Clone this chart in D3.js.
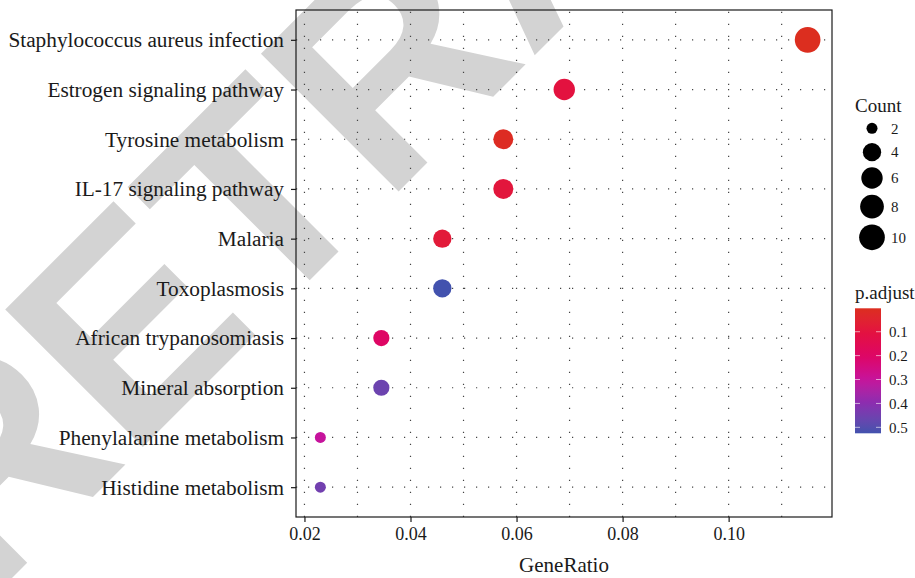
<!DOCTYPE html>
<html><head><meta charset="utf-8">
<script src="https://cdn.jsdelivr.net/npm/d3@7"></script>
<style>body{margin:0;background:#fff}svg{display:block}</style>
</head><body>
<svg id="chart" width="915" height="578"></svg>
<script>
// ---- data ----
const categories = ["Staphylococcus aureus infection","Estrogen signaling pathway","Tyrosine metabolism","IL-17 signaling pathway","Malaria","Toxoplasmosis","African trypanosomiasis","Mineral absorption","Phenylalanine metabolism","Histidine metabolism"];
const geneRatio = [0.1149,0.0690,0.0575,0.0575,0.0460,0.0460,0.0345,0.0345,0.0230,0.0230];
const counts = [10,6,5,5,4,4,3,3,2,2];
const pAdjust = [0.002,0.10,0.012,0.09,0.08,0.525,0.20,0.46,0.30,0.45];
const xTicks = [0.02,0.04,0.06,0.08,0.10];
const xTickLabels = ["0.02","0.04","0.06","0.08","0.10"];
const xMinor = [0.03,0.05,0.07,0.09,0.11];
const countBreaks = [2,4,6,8,10];
const pBreaks = [0.1,0.2,0.3,0.4,0.5];
const pBreakLabels = ["0.1","0.2","0.3","0.4","0.5"];
const colorStops = [0.002,0.1,0.2,0.3,0.4,0.525];
const stopColors = ["#DC2E1F","#E3123F","#DE0664","#C6139C","#8A2DB0","#4252AE"];
const watermark = "RETRACTED";

// ---- layout ----
const P = {left: 296, right: 832, top: 10, bottom: 517};
const serif = "'Liberation Serif','DejaVu Serif',serif";
const ink = "#1a1a1a";
const svg = d3.select("#chart");

// watermark (behind everything)
svg.append("text")
  .attr("transform", "translate(-15,605) rotate(-45)")
  .attr("font-family", "'Liberation Sans',Arial,sans-serif")
  .attr("font-weight", "bold")
  .attr("font-size", 283)
  .attr("fill", "#d3d3d3")
  .text(watermark);

// scales
const ext = d3.extent(geneRatio);
const pad = 0.05 * (ext[1] - ext[0]);
const x = d3.scaleLinear().domain([ext[0] - pad, ext[1] + pad]).range([P.left, P.right]);
const y = d3.scalePoint().domain(categories).range([P.top, P.bottom]).padding(0.6);
const sizeT = d3.scaleLinear().domain(d3.extent(counts)).range([0, 1]);
const rLin = d3.scaleLinear().domain([0, 1]).range([5.5, 12.85]);
const rad = c => rLin(Math.sqrt(sizeT(c)));
const color = d3.scaleLinear().domain(colorStops).range(stopColors).interpolate(d3.interpolateLab).clamp(true);

// grid
const g = svg.append("g");
const dash = "1.2 10.8";
g.selectAll("line.vg").data(xTicks.concat(xMinor)).join("line")
  .attr("x1", d => x(d)).attr("x2", d => x(d))
  .attr("y1", P.bottom).attr("y2", P.top)
  .attr("stroke", "#444").attr("stroke-width", 1.2).attr("stroke-dasharray", dash);
g.selectAll("line.hg").data(categories).join("line")
  .attr("x1", P.left).attr("x2", P.right)
  .attr("y1", d => y(d)).attr("y2", d => y(d))
  .attr("stroke", "#444").attr("stroke-width", 1.2).attr("stroke-dasharray", dash);

// points
svg.append("g").selectAll("circle").data(categories).join("circle")
  .attr("cx", (d, i) => x(geneRatio[i]))
  .attr("cy", d => y(d))
  .attr("r", (d, i) => rad(counts[i]))
  .attr("fill", (d, i) => color(pAdjust[i]));

// panel border
svg.append("rect").attr("x", P.left).attr("y", P.top)
  .attr("width", P.right - P.left).attr("height", P.bottom - P.top)
  .attr("fill", "none").attr("stroke", ink).attr("stroke-width", 1.2);

// axes
const xAxis = svg.append("g").attr("transform", `translate(0,${P.bottom})`)
  .call(d3.axisBottom(x).tickValues(xTicks).tickFormat((d, i) => xTickLabels[i]).tickSize(5).tickPadding(5));
xAxis.select(".domain").remove();
xAxis.selectAll("line").attr("stroke", ink).attr("stroke-width", 1.2);
xAxis.selectAll("text").attr("font-family", serif).attr("font-size", 18).attr("fill", ink);

const yAxis = svg.append("g").attr("transform", `translate(${P.left},0)`)
  .call(d3.axisLeft(y).tickSize(5).tickPadding(7));
yAxis.select(".domain").remove();
yAxis.selectAll("line").attr("stroke", ink).attr("stroke-width", 1.2);
yAxis.selectAll("text").attr("font-family", serif).attr("font-size", 21.3).attr("fill", ink);

svg.append("text").attr("x", (P.left + P.right) / 2).attr("y", 572)
  .attr("text-anchor", "middle").attr("font-family", serif).attr("font-size", 21)
  .attr("fill", ink).text("GeneRatio");

// legend: Count
const lg = svg.append("g");
lg.append("text").attr("x", 855).attr("y", 112).attr("font-family", serif)
  .attr("font-size", 19).attr("fill", ink).text("Count");
let cy = 128.3, prevH = null;
const keyY = [];
countBreaks.forEach(c => {
  const h = Math.max(17.3, 2 * rad(c)) + 6;
  if (prevH !== null) cy += prevH / 2 + h / 2;
  keyY.push(cy); prevH = h;
});
lg.selectAll("circle").data(countBreaks).join("circle")
  .attr("cx", 872).attr("cy", (d, i) => keyY[i]).attr("r", d => rad(d)).attr("fill", "#000");
lg.selectAll("text.lab").data(countBreaks).join("text").attr("class", "lab")
  .attr("x", 891).attr("y", (d, i) => keyY[i]).attr("dy", "0.35em")
  .attr("font-family", serif).attr("font-size", 15).attr("fill", ink).text(d => d);

// legend: p.adjust colourbar
const cb = {x: 855, w: 26, top: 308.3, bottom: 433.3};
svg.append("text").attr("x", 855).attr("y", 299).attr("font-family", serif)
  .attr("font-size", 19).attr("fill", ink).text("p.adjust");
const pScale = d3.scaleLinear().domain([colorStops[0], colorStops[colorStops.length - 1]]).range([cb.top, cb.bottom]);
const grad = svg.append("defs").append("linearGradient").attr("id", "pgrad")
  .attr("x1", 0).attr("x2", 0).attr("y1", 0).attr("y2", 1);
d3.range(0, 1.0001, 0.05).forEach(t => {
  const v = pScale.domain()[0] + t * (pScale.domain()[1] - pScale.domain()[0]);
  grad.append("stop").attr("offset", t).attr("stop-color", color(v));
});
svg.append("rect").attr("x", cb.x).attr("y", cb.top).attr("width", cb.w).attr("height", cb.bottom - cb.top)
  .attr("fill", "url(#pgrad)");
const tk = svg.append("g");
pBreaks.forEach(b => {
  tk.append("line").attr("x1", cb.x).attr("x2", cb.x + 5).attr("y1", pScale(b)).attr("y2", pScale(b))
    .attr("stroke", "#fff").attr("stroke-opacity", 0.6);
  tk.append("line").attr("x1", cb.x + cb.w - 5).attr("x2", cb.x + cb.w).attr("y1", pScale(b)).attr("y2", pScale(b))
    .attr("stroke", "#fff").attr("stroke-opacity", 0.6);
});
svg.append("g").selectAll("text").data(pBreaks).join("text")
  .attr("x", 889).attr("y", d => pScale(d)).attr("dy", "0.35em")
  .attr("font-family", serif).attr("font-size", 15).attr("fill", ink)
  .text((d, i) => pBreakLabels[i]);
</script>
</body></html>
